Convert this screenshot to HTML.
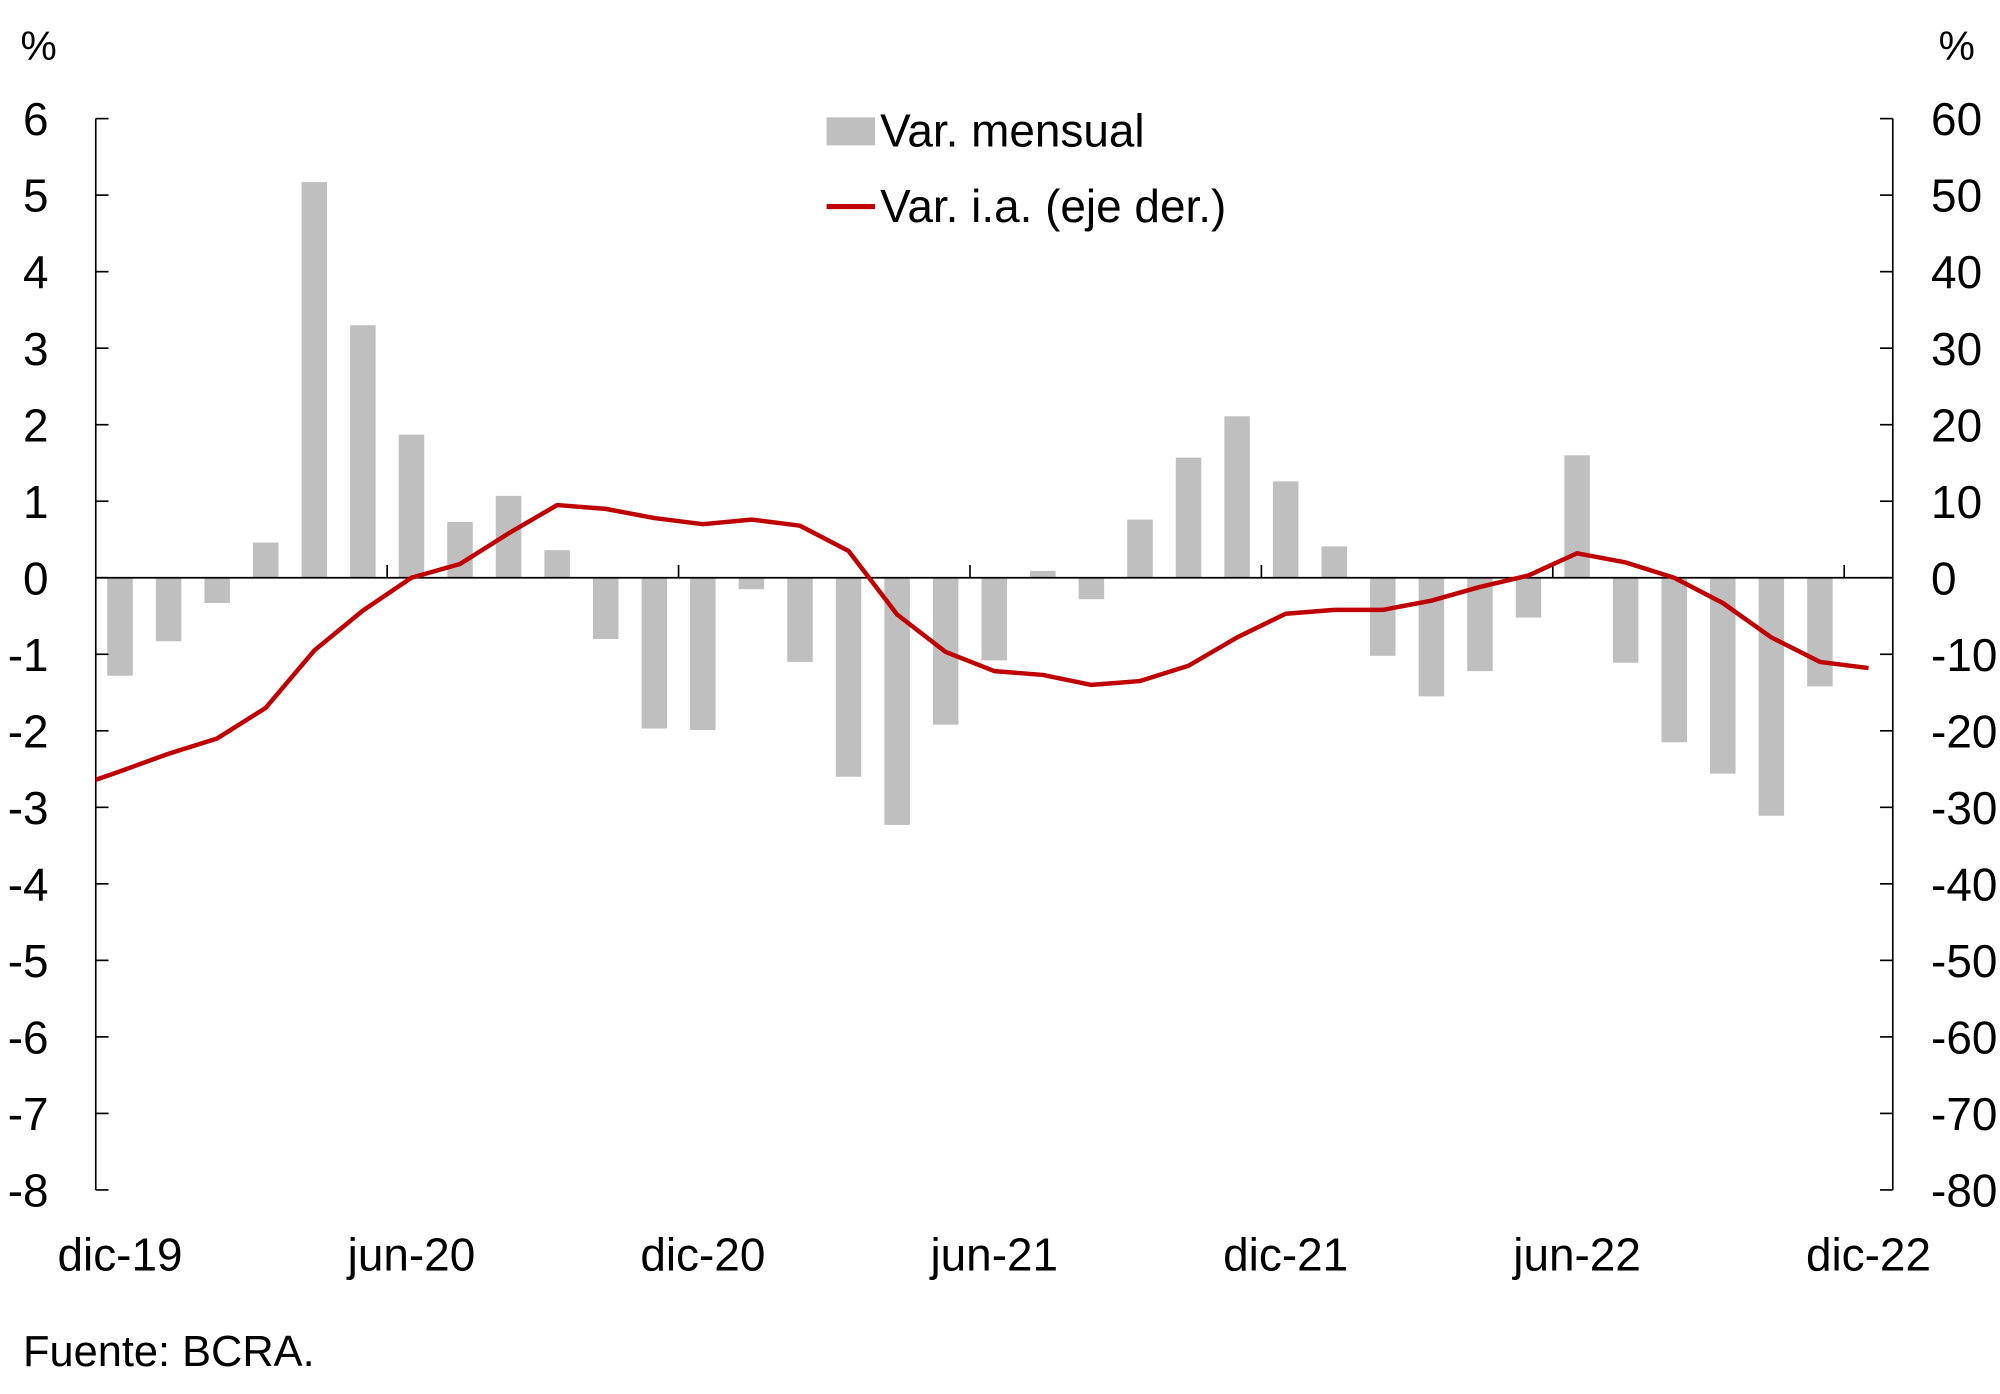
<!DOCTYPE html>
<html><head><meta charset="utf-8"><style>
html,body{margin:0;padding:0;background:#fff;}
svg{display:block;font-family:"Liberation Sans",Arial,sans-serif;}
</style></head><body>
<svg id="chart" width="2000" height="1394" viewBox="0 0 1568 1093" xmlns="http://www.w3.org/2000/svg">
<defs><clipPath id="plotclip"><rect x="75" y="80" width="1409" height="860"/></clipPath></defs>
<text x="16" y="47" font-size="32">%</text>
<text x="1520" y="47" font-size="32">%</text>
<g id="bars"></g>
<g id="axes"></g>
<g id="line" clip-path="url(#plotclip)"></g>
<g>
<rect x="648" y="92" width="38" height="22" fill="#bfbfbf"/>
<text x="690" y="115" font-size="36">Var. mensual</text>
<line x1="648" y1="162" x2="686" y2="162" stroke="#c00000" stroke-width="4"/>
<text x="690" y="174" font-size="36">Var. i.a. (eje der.)</text>
</g>
<text x="18" y="1071" font-size="34">Fuente: BCRA.</text>
</svg>
<script>
const months = 37;
const barValues = [-1.28,-0.83,-0.33,0.46,5.17,3.30,1.87,0.73,1.07,0.36,-0.80,-1.97,-1.99,-0.15,-1.10,-2.60,-3.23,-1.92,-1.08,0.09,-0.28,0.76,1.57,2.11,1.26,0.41,-1.02,-1.55,-1.22,-0.52,1.60,-1.11,-2.15,-2.56,-3.11,-1.42,0.0];
const lineValues = [-27.5,-25.3,-23,-21,-17,-9.5,-4.3,0,1.8,5.8,9.5,9,7.8,7,7.6,6.8,3.5,-4.8,-9.7,-12.2,-12.7,-14,-13.5,-11.5,-7.8,-4.7,-4.2,-4.2,-3,-1.2,0.3,3.2,2,0,-3.3,-7.8,-11,-11.8];
const leftTicks = [6,5,4,3,2,1,0,-1,-2,-3,-4,-5,-6,-7,-8];
const rightTicks = [60,50,40,30,20,10,0,-10,-20,-30,-40,-50,-60,-70,-80];
const xLabels = ["dic-19","jun-20","dic-20","jun-21","dic-21","jun-22","dic-22"];
const xLabelIdx = [0,6,12,18,24,30,36];

const NS="http://www.w3.org/2000/svg";
const X0=75,X1=1484,bw=(X1-X0)/months;
const yL=v=>453-v*60, yR=v=>453-v*6, xC=i=>X0+bw*(i+0.5);
function mk(t,a,p){const e=document.createElementNS(NS,t);for(const k in a)e.setAttribute(k,a[k]);p.appendChild(e);return e;}
const bars=document.getElementById('bars'),axes=document.getElementById('axes'),line=document.getElementById('line');
barValues.forEach((v,i)=>{
  const r=mk('rect',{x:xC(i)-10,y:Math.min(yL(v),yL(0)),width:20,height:Math.max(Math.abs(yL(v)-yL(0)),0.01),fill:'#bfbfbf'},bars);
  
  
});
mk('line',{x1:X0,y1:93,x2:X0,y2:933,stroke:'#000','stroke-width':1.3},axes);
mk('line',{x1:X1,y1:93,x2:X1,y2:933,stroke:'#000','stroke-width':1.3},axes);
mk('line',{x1:X0,y1:yL(0),x2:X1,y2:yL(0),stroke:'#000','stroke-width':1.3},axes);
leftTicks.forEach(v=>{
  mk('line',{x1:X0,y1:yL(v),x2:X0+10,y2:yL(v),stroke:'#000','stroke-width':1.3},axes);
  const t=mk('text',{x:38,y:yL(v)+13,'font-size':36,'text-anchor':'end'},axes);t.textContent=v;
  
  
});
rightTicks.forEach(v=>{
  mk('line',{x1:X1-10,y1:yR(v),x2:X1,y2:yR(v),stroke:'#000','stroke-width':1.3},axes);
  const t=mk('text',{x:1514,y:yR(v)+13,'font-size':36},axes);t.textContent=v;
  
  
});
for(let k=6;k<months;k+=6){mk('line',{x1:X0+bw*k,y1:yL(0)-10,x2:X0+bw*k,y2:yL(0),stroke:'#000','stroke-width':1.3},axes);}
xLabels.forEach((s,j)=>{
  const t=mk('text',{x:xC(xLabelIdx[j]),y:996,'font-size':36,'text-anchor':'middle'},axes);t.textContent=s;
  
  
});
const pts=lineValues.map((v,i)=>xC(i-1).toFixed(1)+','+yR(v).toFixed(1)).join(' ');
const pl=mk('polyline',{points:pts,fill:'none',stroke:'#c00000','stroke-width':3.5,'stroke-linejoin':'round'},line);


</script>
</body></html>
